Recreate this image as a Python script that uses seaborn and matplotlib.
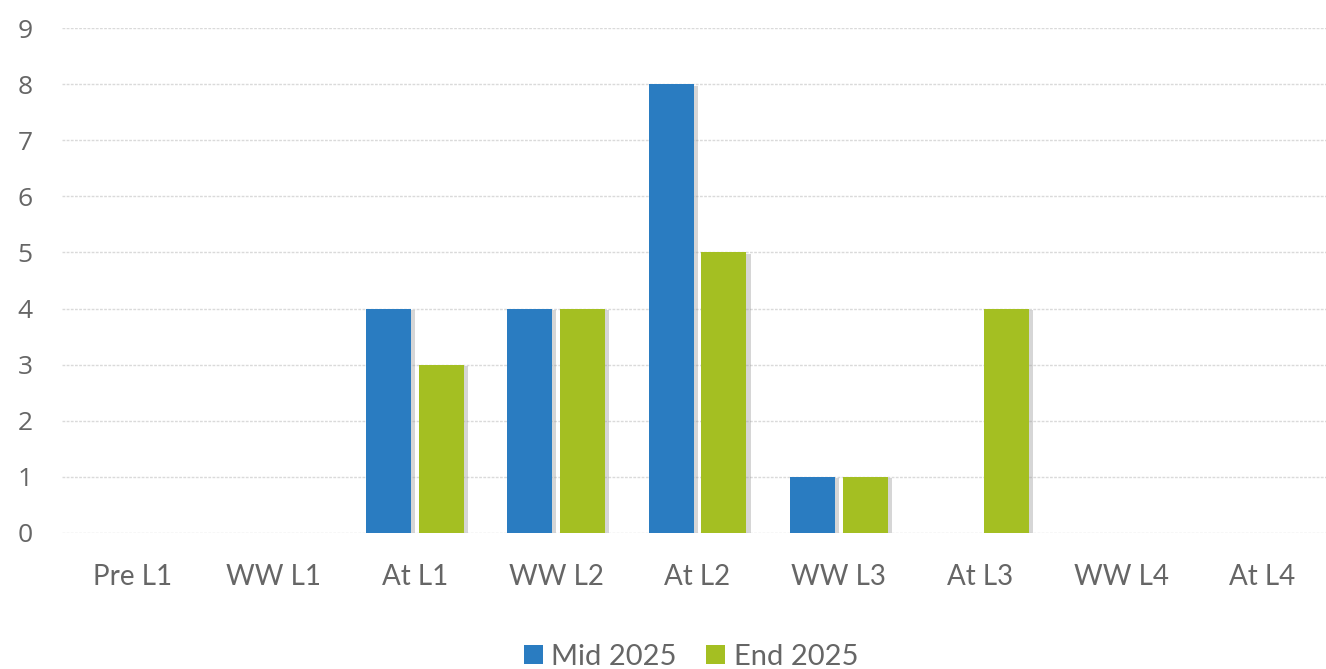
import matplotlib
matplotlib.use("Agg")
import matplotlib.pyplot as plt
import matplotlib.patheffects as pe
import seaborn as sns
import pandas as pd

categories = ["Pre L1", "WW L1", "At L1", "WW L2", "At L2", "WW L3", "At L3", "WW L4", "At L4"]
mid_2025 = [0, 0, 4, 4, 8, 1, 0, 0, 0]
end_2025 = [0, 0, 3, 4, 5, 1, 4, 0, 0]
series_names = ["Mid 2025", "End 2025"]
y_ticks = list(range(0, 10))

df = pd.DataFrame({
    "level": categories * 2,
    "count": mid_2025 + end_2025,
    "period": [series_names[0]] * len(categories) + [series_names[1]] * len(categories),
})

sns.set_theme(style="white")
plt.rcParams["font.family"] = ["Lato", "DejaVu Sans"]

text_color = "#666666"
palette = {"Mid 2025": "#2a7cc1", "End 2025": "#a4bf22"}

fig = plt.figure(figsize=(13.26, 6.69), dpi=100)
ax = fig.add_axes([62 / 1326, 136 / 669, 1271 / 1326, 505 / 669])

sns.barplot(data=df, x="level", y="count", hue="period", order=categories,
            hue_order=series_names, palette=palette, width=0.75, gap=0.15,
            linewidth=0, saturation=1, ax=ax, legend=True, zorder=3)

for bar in ax.patches:
    if bar.get_height() > 0:
        bar.set_path_effects([pe.SimplePatchShadow(offset=(3, -1), shadow_rgbFace="#9a9a9a", alpha=0.4),
                              pe.Normal()])

ax.set_xlim(-0.5, len(categories) - 0.5)
ax.set_ylim(0, 9)
ax.set_yticks(y_ticks)
ax.yaxis.grid(True, color="#dadada", linewidth=1.0, linestyle=(0, (2, 1)), zorder=0)
ax.set_axisbelow(True)
for s in ax.spines.values():
    s.set_visible(False)
ax.set_xlabel("")
ax.set_ylabel("")
ax.tick_params(axis="y", length=0, pad=21, labelsize=21, labelcolor=text_color)
ax.tick_params(axis="x", length=0, pad=22, labelsize=20, labelcolor=text_color)
for lbl in ax.get_yticklabels():
    lbl.set_fontfamily(["Open Sans", "DejaVu Sans"])
    lbl.set_fontsize(19)

leg = ax.get_legend()
handles, labels = ax.get_legend_handles_labels()
leg.remove()
fig.legend(handles, labels, loc="center", bbox_to_anchor=(691 / 1326, 12 / 669), ncol=2,
           frameon=False, fontsize=21, labelcolor=text_color, handlelength=0.65,
           handleheight=0.65, handletextpad=0.3, columnspacing=1.0)

fig.savefig("out.png", dpi=100, facecolor="white")
